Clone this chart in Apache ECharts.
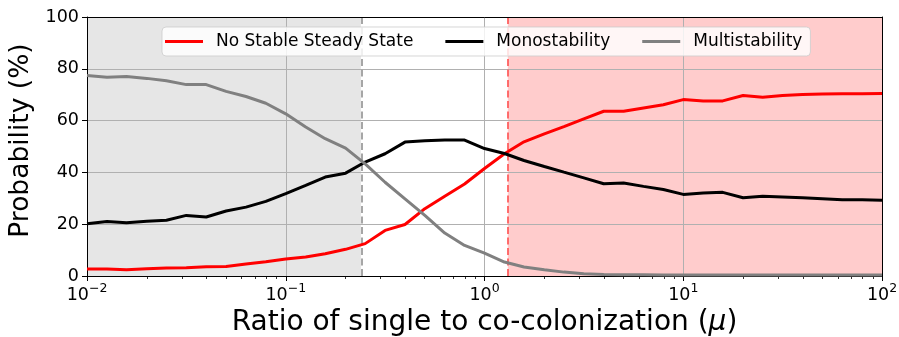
<!DOCTYPE html>
<html>
<head>
<meta charset="utf-8">
<script src="https://cdn.jsdelivr.net/npm/echarts@6/dist/echarts.min.js"></script>
<style>
  html, body { margin: 0; padding: 0; background: #ffffff; }
  #chart { width: 899px; height: 337px; }
</style>
</head>
<body>
<div id="chart"></div>
<script>
// Ratio of single to co-colonization (mu), log-spaced samples
const mu = [
  0.01, 0.0126, 0.0158, 0.02, 0.0251, 0.0316, 0.0398, 0.0501, 0.0631, 0.0794,
  0.1, 0.126, 0.158, 0.2, 0.251, 0.316, 0.398, 0.501, 0.631, 0.794,
  1, 1.26, 1.58, 2, 2.51, 3.16, 3.98, 5.01, 6.31, 7.94,
  10, 12.6, 15.8, 20, 25.1, 31.6, 39.8, 50.1, 63.1, 79.4,
  100
];

// Probability (%) of each outcome
const noStable = [
  2.7, 2.7, 2.4, 2.8, 3.1, 3.2, 3.6, 3.7, 4.6, 5.5,
  6.6, 7.3, 8.6, 10.3, 12.5, 17.6, 19.9, 26.0, 30.8, 35.5,
  41.5, 47.2, 51.8, 54.9, 57.7, 60.7, 63.6, 63.6, 64.9, 66.1,
  68.1, 67.6, 67.6, 69.7, 69.0, 69.7, 70.1, 70.3, 70.4, 70.4,
  70.5
];
const mono = [
  20.2, 21.0, 20.6, 21.1, 21.5, 23.4, 22.8, 25.1, 26.6, 28.8,
  31.8, 35.0, 38.2, 39.7, 44.0, 47.2, 51.7, 52.2, 52.5, 52.5,
  49.2, 47.3, 44.6, 42.3, 40.1, 37.9, 35.6, 35.9, 34.6, 33.4,
  31.5, 32.0, 32.3, 30.2, 30.8, 30.5, 30.2, 29.8, 29.4, 29.4,
  29.2
];
const multi = [
  77.4, 76.7, 77.0, 76.3, 75.4, 73.9, 73.9, 71.3, 69.3, 66.7,
  62.6, 57.5, 53.0, 49.4, 43.3, 36.2, 29.8, 23.4, 16.6, 11.8,
  8.8, 5.4, 3.5, 2.4, 1.5, 0.9, 0.6, 0.5, 0.5, 0.4,
  0.4, 0.4, 0.4, 0.4, 0.4, 0.4, 0.4, 0.4, 0.4, 0.4,
  0.4
];

const seriesNames = ['No Stable Steady State', 'Monostability', 'Multistability'];
const yTicks = [0, 20, 40, 60, 80, 100];

// Regime boundaries on the mu axis
const lowerBound = 0.239;
const upperBound = 1.31;

// Minor log ticks (2..9 of each decade)
const minorTicks = [];
[0.01, 0.1, 1, 10].forEach(function (d) {
  for (let k = 2; k <= 9; k++) minorTicks.push(+(d * k).toPrecision(3));
});

const FONT = 'DejaVu Sans';

function pairs(ys) {
  return mu.map(function (x, i) { return [x, ys[i]]; });
}

const chart = echarts.init(document.getElementById('chart'), null, { renderer: 'canvas' });

chart.setOption({
  animation: false,
  backgroundColor: '#ffffff',
  textStyle: { fontFamily: FONT },
  grid: { left: 87, right: 17, top: 17, bottom: 61, containLabel: false, outerBoundsMode: 'none' },
  legend: {
    left: 162,
    top: 27,
    orient: 'horizontal',
    icon: 'rect',
    itemWidth: 38,
    itemHeight: 3,
    itemGap: 32,
    padding: [6, 8, 6, 3],
    backgroundColor: 'rgba(255,255,255,0.82)',
    borderColor: 'rgba(204,204,204,0.8)',
    borderWidth: 1,
    borderRadius: 4,
    textStyle: { fontFamily: FONT, fontSize: 17, color: '#000', padding: [0, 0, 0, 8] },
    data: seriesNames
  },
  xAxis: [
    {
      type: 'log',
      logBase: 10,
      min: 0.01,
      max: 100,
      name: 'Ratio of single to co-colonization ({it|μ})',
      nameLocation: 'middle',
      nameGap: 27,
      nameTextStyle: {
        fontFamily: FONT, fontSize: 28, color: '#000',
        rich: { it: { fontFamily: FONT, fontSize: 28, fontStyle: 'italic', color: '#000' } }
      },
      axisLine: { show: true, lineStyle: { color: '#000', width: 1 } },
      axisTick: { show: true, length: 5, lineStyle: { color: '#000', width: 1 } },
      splitLine: { show: true, lineStyle: { color: '#b0b0b0', width: 1 } },
      axisLabel: {
        show: true,
        margin: 6,
        showMinLabel: true,
        showMaxLabel: true,
        formatter: function (v) {
          const e = Math.round(Math.log10(v));
          return '{b|10}{s|' + (e < 0 ? '\u2212' + (-e) : e) + '}';
        },
        rich: {
          b: { fontFamily: FONT, fontSize: 17.5, color: '#000', lineHeight: 22, verticalAlign: 'bottom' },
          s: { fontFamily: FONT, fontSize: 12.5, color: '#000', lineHeight: 14, verticalAlign: 'top' }
        }
      },
      z: 1
    },
    {
      type: 'log',
      logBase: 10,
      min: 0.01,
      max: 100,
      position: 'bottom',
      axisLine: { show: false },
      axisLabel: { show: false },
      splitLine: { show: false },
      axisTick: { show: true, length: 3, customValues: minorTicks, lineStyle: { color: '#000', width: 0.8 } },
      z: 1
    },
    {
      type: 'log',
      logBase: 10,
      min: 0.01,
      max: 100,
      position: 'top',
      axisLine: { show: true, lineStyle: { color: '#000', width: 1 } },
      axisLabel: { show: false },
      axisTick: { show: false },
      splitLine: { show: false },
      z: 1
    }
  ],
  yAxis: [
    {
      type: 'value',
      min: 0,
      max: 100,
      interval: 20,
      name: 'Probability (%)',
      nameLocation: 'middle',
      nameGap: 43,
      nameTextStyle: { fontFamily: FONT, fontSize: 26.5, color: '#000', padding: [0, 0, 0, 12] },
      axisLine: { show: true, lineStyle: { color: '#000', width: 1 } },
      axisTick: { show: true, length: 5, lineStyle: { color: '#000', width: 1 } },
      splitLine: { show: true, lineStyle: { color: '#b0b0b0', width: 1 } },
      axisLabel: {
        margin: 8,
        fontFamily: FONT,
        fontSize: 17.5,
        color: '#000',
        showMinLabel: true,
        showMaxLabel: true,
        customValues: yTicks
      },
      z: 1
    },
    {
      type: 'value',
      min: 0,
      max: 100,
      position: 'right',
      axisLine: { show: true, lineStyle: { color: '#000', width: 1 } },
      axisLabel: { show: false },
      axisTick: { show: false },
      splitLine: { show: false },
      z: 1
    }
  ],
  series: [
    {
      // regime shading
      type: 'line',
      name: 'regions',
      xAxisIndex: 0,
      yAxisIndex: 0,
      data: [],
      silent: true,
      z: -2,
      markArea: {
        silent: true,
        z: -2,
        data: [
          [{ xAxis: 0.01, itemStyle: { color: '#e6e6e6' } }, { xAxis: lowerBound }],
          [{ xAxis: upperBound, itemStyle: { color: '#ffcccc' } }, { xAxis: 100 }]
        ]
      }
    },
    {
      // regime boundaries
      type: 'line',
      name: 'bounds',
      xAxisIndex: 0,
      yAxisIndex: 0,
      data: [],
      silent: true,
      z: 1,
      markLine: {
        silent: true,
        z: 1,
        symbol: ['none', 'none'],
        label: { show: false },
        data: [
          { xAxis: lowerBound, lineStyle: { color: '#a6a6a6', width: 2, type: [7, 3.5] } },
          { xAxis: upperBound, lineStyle: { color: '#ff6060', width: 1.8, type: [7, 3.5] } }
        ]
      }
    },
    {
      name: seriesNames[0],
      type: 'line',
      data: pairs(noStable),
      showSymbol: false,
      symbol: 'none',
      color: '#ff0000',
      lineStyle: { color: '#ff0000', width: 3 },
      z: 3
    },
    {
      name: seriesNames[1],
      type: 'line',
      data: pairs(mono),
      showSymbol: false,
      symbol: 'none',
      color: '#000000',
      lineStyle: { color: '#000000', width: 3 },
      z: 3
    },
    {
      name: seriesNames[2],
      type: 'line',
      data: pairs(multi),
      showSymbol: false,
      symbol: 'none',
      color: '#808080',
      lineStyle: { color: '#808080', width: 3 },
      z: 3
    }
  ]
});
</script>
</body>
</html>
